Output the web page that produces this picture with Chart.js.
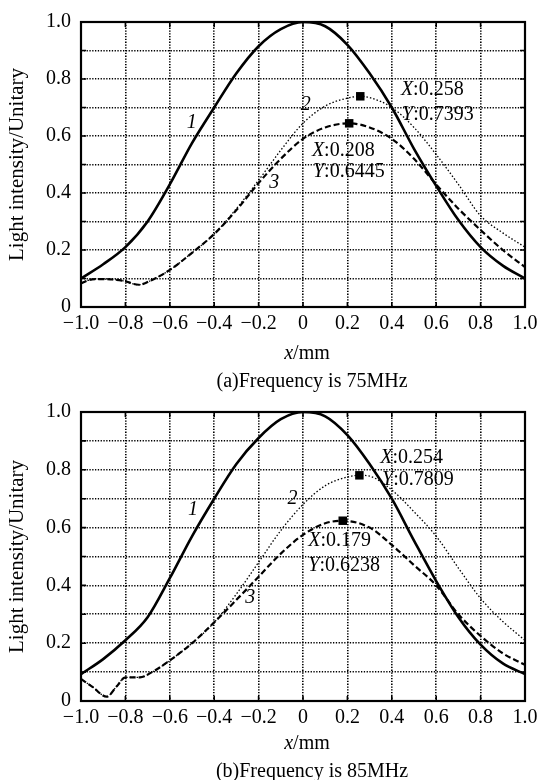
<!DOCTYPE html>
<html>
<head>
<meta charset="utf-8">
<script src="https://cdn.jsdelivr.net/npm/chart.js@4.4.1/dist/chart.umd.min.js"></script>
<style>
  body { margin: 0; background: #fff; }
  #page { position: relative; width: 545px; height: 780px; font-family: "Liberation Serif", "Times New Roman", serif; color: #000; }
  .panel { position: absolute; left: 0; width: 545px; height: 390px; }
  .lbl { position: absolute; font-size: 20px; line-height: 1; white-space: nowrap; transform: translate(-50%, -50%); }
</style>
</head>
<body>
<div id="page">
  <div class="panel" style="top:0"><canvas id="chart-a" width="545" height="390"></canvas></div>
  <div class="panel" style="top:390px"><canvas id="chart-b" width="545" height="390"></canvas></div>
  <div class="lbl" style="left:307px;top:352px"><i>x</i>/mm</div>
  <div class="lbl" style="left:312px;top:380px">(a)Frequency is 75MHz</div>
  <div class="lbl" style="left:307px;top:742px"><i>x</i>/mm</div>
  <div class="lbl" style="left:312px;top:770px">(b)Frequency is 85MHz</div>
</div>
<script>
const FONT = '"Liberation Serif", "Times New Roman", serif';

// (a) Frequency is 75MHz
const a1X = [-1, -0.9, -0.8, -0.7, -0.6, -0.5, -0.4, -0.3, -0.2, -0.1, 0, 0.1, 0.2, 0.3, 0.4, 0.5, 0.6, 0.7, 0.8, 0.9, 1];
const a1Y = [0.10, 0.15, 0.21, 0.30, 0.43, 0.575, 0.70, 0.82, 0.915, 0.975, 1.0, 0.985, 0.92, 0.82, 0.70, 0.555, 0.425, 0.305, 0.21, 0.145, 0.10];
const a2X = [-1, -0.95, -0.9, -0.81, -0.74, -0.68, -0.6, -0.5, -0.4, -0.3, -0.2, -0.1, 0, 0.1, 0.2, 0.258, 0.3, 0.4, 0.5, 0.6, 0.7, 0.8, 0.9, 1];
const a2Y = [0.083, 0.097, 0.098, 0.092, 0.078, 0.095, 0.13, 0.19, 0.256, 0.345, 0.445, 0.55, 0.645, 0.705, 0.733, 0.7393, 0.735, 0.70, 0.63, 0.535, 0.43, 0.32, 0.26, 0.21];
const a3X = [-1, -0.95, -0.9, -0.81, -0.74, -0.68, -0.6, -0.5, -0.4, -0.3, -0.2, -0.1, 0, 0.1, 0.208, 0.3, 0.4, 0.5, 0.6, 0.7, 0.8, 0.9, 1];
const a3Y = [0.083, 0.097, 0.098, 0.092, 0.078, 0.095, 0.13, 0.19, 0.256, 0.34, 0.435, 0.52, 0.59, 0.63, 0.6445, 0.63, 0.59, 0.52, 0.43, 0.345, 0.27, 0.20, 0.14];
const aMarkX = [0.258, 0.208];
const aMarkY = [0.7393, 0.6445];

// (b) Frequency is 85MHz
const b1X = [-1, -0.9, -0.8, -0.7, -0.6, -0.5, -0.4, -0.3, -0.2, -0.1, 0, 0.1, 0.2, 0.3, 0.4, 0.5, 0.6, 0.7, 0.8, 0.9, 1];
const b1Y = [0.093, 0.145, 0.21, 0.29, 0.425, 0.57, 0.70, 0.82, 0.91, 0.975, 1.0, 0.985, 0.92, 0.82, 0.70, 0.555, 0.415, 0.29, 0.195, 0.13, 0.093];
const b2X = [-1, -0.95, -0.884, -0.84, -0.8, -0.734, -0.68, -0.6, -0.5, -0.4, -0.3, -0.2, -0.1, 0, 0.1, 0.2, 0.254, 0.3, 0.4, 0.5, 0.6, 0.7, 0.8, 0.9, 1];
const b2Y = [0.076, 0.05, 0.015, 0.05, 0.082, 0.082, 0.10, 0.14, 0.20, 0.272, 0.37, 0.48, 0.59, 0.68, 0.745, 0.775, 0.7809, 0.778, 0.73, 0.655, 0.57, 0.46, 0.355, 0.275, 0.21];
const b3X = [-1, -0.95, -0.884, -0.84, -0.8, -0.734, -0.68, -0.6, -0.5, -0.4, -0.3, -0.2, -0.1, 0, 0.1, 0.179, 0.3, 0.4, 0.5, 0.6, 0.7, 0.8, 0.9, 1];
const b3Y = [0.076, 0.05, 0.015, 0.05, 0.082, 0.082, 0.10, 0.14, 0.20, 0.272, 0.35, 0.43, 0.51, 0.575, 0.615, 0.6238, 0.60, 0.54, 0.47, 0.40, 0.30, 0.225, 0.165, 0.125];
const bMarkX = [0.254, 0.179];
const bMarkY = [0.7809, 0.6238];

const pts = (xs, ys) => xs.map((x, i) => ({ x, y: ys[i] }));

// text placed on the plot (italic part, plain part)
const aNotes = [
  { x: 0.441, y: 0.761, it: 'X', rest: ':0.258' },
  { x: 0.446, y: 0.676, it: 'Y', rest: ':0.7393' },
  { x: 0.040, y: 0.550, it: 'X', rest: ':0.208' },
  { x: 0.045, y: 0.474, it: 'Y', rest: ':0.6445' },
  { x: -0.501, y: 0.646, it: '1', center: true },
  { x: 0.012, y: 0.710, it: '2', center: true },
  { x: -0.130, y: 0.437, it: '3', center: true }
];
const bNotes = [
  { x: 0.348, y: 0.840, it: 'X', rest: ':0.254' },
  { x: 0.356, y: 0.764, it: 'Y', rest: ':0.7809' },
  { x: 0.024, y: 0.553, it: 'X', rest: ':0.179' },
  { x: 0.024, y: 0.469, it: 'Y', rest: ':0.6238' },
  { x: -0.495, y: 0.662, it: '1', center: true },
  { x: -0.047, y: 0.700, it: '2', center: true },
  { x: -0.238, y: 0.358, it: '3', center: true }
];

function framePlugin(notes) {
  return {
    id: 'frame',
    afterDatasetsDraw(chart) {
      const { ctx, chartArea: a, scales: { x, y } } = chart;
      ctx.save();
      ctx.strokeStyle = '#000';
      ctx.lineWidth = 1.6;
      ctx.beginPath();
      x.ticks.forEach(t => {
        const px = x.getPixelForValue(t.value);
        ctx.moveTo(px, a.bottom); ctx.lineTo(px, a.bottom - 5);
        ctx.moveTo(px, a.top); ctx.lineTo(px, a.top + 5);
      });
      y.ticks.forEach(t => {
        const py = y.getPixelForValue(t.value);
        ctx.moveTo(a.left, py); ctx.lineTo(a.left + 5, py);
        ctx.moveTo(a.right, py); ctx.lineTo(a.right - 5, py);
      });
      ctx.stroke();
      ctx.lineWidth = 2.2;
      ctx.strokeRect(a.left, a.top, a.right - a.left, a.bottom - a.top);

      ctx.fillStyle = '#000';
      ctx.textBaseline = 'middle';
      notes.forEach(n => {
        let px = x.getPixelForValue(n.x);
        const py = y.getPixelForValue(n.y);
        ctx.font = 'italic 20px ' + FONT;
        ctx.textAlign = n.center ? 'center' : 'left';
        ctx.fillText(n.it, px, py);
        if (n.rest) {
          px += ctx.measureText(n.it).width;
          ctx.font = '20px ' + FONT;
          ctx.fillText(n.rest, px, py);
        }
      });
      ctx.restore();
    }
  };
}

function buildChart(id, c1, c2, c3, marks, notes, topPad, xHeight) {
  const line = (data, width, dash) => ({
    data, borderColor: '#000', borderWidth: width, borderDash: dash,
    pointRadius: 0, fill: false, cubicInterpolationMode: 'monotone'
  });
  new Chart(document.getElementById(id), {
    type: 'line',
    data: {
      datasets: [
        { data: marks, showLine: false, pointStyle: 'rect', pointRadius: 6,
          backgroundColor: '#000', borderColor: '#000', borderWidth: 0, order: 0 },
        Object.assign(line(c1, 2.6, []), { order: 1 }),
        Object.assign(line(c2, 1.3, [1.5, 2]), { order: 2 }),
        Object.assign(line(c3, 2.2, [6, 3]), { order: 3 })
      ]
    },
    options: {
      responsive: false,
      animation: false,
      events: [],
      layout: { padding: { top: topPad, right: 20, bottom: 0, left: 0 } },
      plugins: { legend: { display: false }, tooltip: { enabled: false } },
      scales: {
        x: {
          type: 'linear', min: -1, max: 1,
          afterFit: s => { s.height = xHeight; },
          ticks: {
            stepSize: 0.2, autoSkip: false, maxRotation: 0, padding: 5, color: '#000',
            font: { family: FONT, size: 20 },
            callback: v => {
              const k = Math.round(v * 10);
              if (k === 0) return '0';
              return (k < 0 ? '\u2212' : '') + (Math.abs(k) / 10).toFixed(1);
            }
          },
          grid: { color: '#000', lineWidth: 1.6, drawTicks: false },
          border: { display: false, dash: [1.3, 1.5] }
        },
        y: {
          min: 0, max: 1,
          afterFit: s => { s.width = 81; },
          ticks: {
            stepSize: 0.1, autoSkip: false, padding: 10, color: '#000',
            font: { family: FONT, size: 20 },
            callback: v => {
              const k = Math.round(v * 10);
              if (k % 2) return '';
              return k === 0 ? '0' : (k / 10).toFixed(1);
            }
          },
          grid: { color: '#000', lineWidth: 1.6, drawTicks: false },
          border: { display: false, dash: [1.3, 1.5] },
          title: {
            display: true, text: 'Light intensity/Unitary', color: '#000',
            font: { family: FONT, size: 21 }, padding: { top: 5, bottom: 0 }
          }
        }
      }
    },
    plugins: [framePlugin(notes)]
  });
}

buildChart('chart-a', pts(a1X, a1Y), pts(a2X, a2Y), pts(a3X, a3Y), pts(aMarkX, aMarkY), aNotes, 12.5, 83);
buildChart('chart-b', pts(b1X, b1Y), pts(b2X, b2Y), pts(b3X, b3Y), pts(bMarkX, bMarkY), bNotes, 14, 79);
</script>
</body>
</html>
